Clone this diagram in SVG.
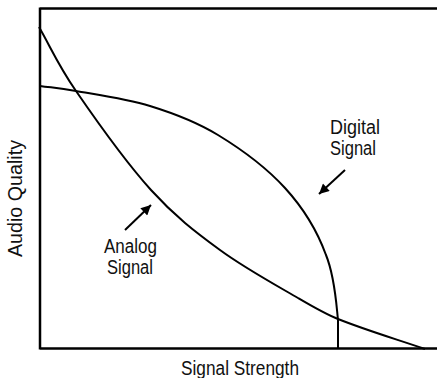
<svg xmlns="http://www.w3.org/2000/svg" width="437" height="378" viewBox="0 0 437 378">
  <defs>
    <style>
      .axis { fill: none; stroke: #000; stroke-width: 2.5; }
      .curve { fill: none; stroke: #000; stroke-width: 2; }
      .arrow { fill: none; stroke: #000; stroke-width: 2; }
      .lbl { font-family: "Liberation Sans Narrow", "Liberation Sans", Arial, sans-serif; font-size: 20px; fill: #111; }
    </style>
    <marker id="ah" viewBox="0 0 10 10" refX="10" refY="5" markerWidth="13" markerHeight="10" markerUnits="userSpaceOnUse" orient="auto">
      <path d="M0,0 L10,5 L0,10 Z" fill="#000"/>
    </marker>
  </defs>
  <rect width="437" height="378" fill="#fff"/>

  <g id="axes">
    <path class="axis" d="M40,8.5 H437 M40,7.5 V349.5 M40,348.5 H437"/>
  </g>

  <g id="analog-curve">
    <path class="curve" d="M39,27 C51.3,48.3 57.3,63.8 76,91 C94.7,118.2 127,163.5 151,190 C175,216.5 195.5,232 220,250 C244.5,268 278.3,286.5 298,298 C311.3,305.8 324.7,313.7 338,319 C367,330.6 396,339 425,349"/>
  </g>

  <g id="digital-curve">
    <path class="curve" d="M40,86 C52,87.7 57.7,87.7 76,91 C94.3,94.3 126.3,98.7 150,106 C173.7,113.3 195.5,121.3 218,135 C240.5,148.7 266.7,168 285,188 C303.3,208 318,233 326,255 C335,277 336.3,304.5 338,320 C338,330 338,338 338,348"/>
  </g>

  <g id="connectors">
    <line class="arrow" x1="345" y1="170" x2="319" y2="194" marker-end="url(#ah)"/>
    <line class="arrow" x1="125" y1="230" x2="151" y2="205" marker-end="url(#ah)"/>
  </g>

  <g id="label-digital">
    <text class="lbl" x="330" y="134" textLength="50" lengthAdjust="spacingAndGlyphs">Digital</text>
    <text class="lbl" x="330" y="155" textLength="46" lengthAdjust="spacingAndGlyphs">Signal</text>
  </g>

  <g id="label-analog">
    <text class="lbl" x="104" y="253" textLength="53" lengthAdjust="spacingAndGlyphs">Analog</text>
    <text class="lbl" x="107" y="274" textLength="46" lengthAdjust="spacingAndGlyphs">Signal</text>
  </g>

  <g id="label-x">
    <text class="lbl" x="181" y="375" textLength="118" lengthAdjust="spacingAndGlyphs">Signal Strength</text>
  </g>

  <g id="label-y">
    <text class="lbl" transform="translate(22,257) rotate(-90)" x="0" y="0" textLength="117" lengthAdjust="spacingAndGlyphs">Audio Quality</text>
  </g>
</svg>
